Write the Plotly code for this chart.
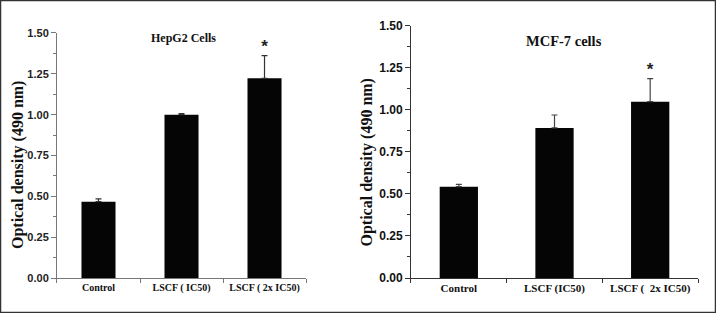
import plotly.graph_objects as go

categories_left = ["Control", "LSCF ( IC50)", "LSCF ( 2x IC50)"]
values_left = [0.467, 1.0, 1.223]
errors_left = [0.017, 0.006, 0.138]
title_left = "HepG2 Cells"

categories_right = ["Control", "LSCF (IC50)", "LSCF (  2x IC50)"]
values_right = [0.543, 0.892, 1.048]
errors_right = [0.014, 0.077, 0.137]
title_right = "MCF-7 cells"

star_left = 1.41
star_right = 1.23

y_title = "Optical density (490 nm)"
y_ticks = [0, 0.25, 0.5, 0.75, 1.0, 1.25, 1.5]

SERIF = "Liberation Serif, Times New Roman, serif"
SANS = "Liberation Sans, Arial, sans-serif"

W, H = 716, 313

fig = go.Figure()

fig.add_trace(go.Bar(
    x=categories_left, y=values_left, width=0.41,
    marker=dict(color="#050505", line=dict(width=0)),
    error_y=dict(type="data", array=errors_left, arrayminus=[0, 0, 0],
                 symmetric=False, color="#333333", thickness=1.2, width=3),
    xaxis="x", yaxis="y", showlegend=False,
))
fig.add_trace(go.Bar(
    x=categories_right, y=values_right, width=0.40,
    marker=dict(color="#050505", line=dict(width=0)),
    error_y=dict(type="data", array=errors_right, arrayminus=[0, 0, 0],
                 symmetric=False, color="#444444", thickness=1.2, width=3),
    xaxis="x2", yaxis="y2", showlegend=False,
))

# asterisks
fig.add_trace(go.Scatter(
    x=[categories_left[2]], y=[star_left], mode="text", text=["<b>*</b>"],
    textfont=dict(family=SANS, size=17, color="#222"),
    xaxis="x", yaxis="y", showlegend=False, hoverinfo="skip",
))
fig.add_trace(go.Scatter(
    x=[categories_right[2]], y=[star_right], mode="text", text=["<b>*</b>"],
    textfont=dict(family=SANS, size=17, color="#222"),
    xaxis="x2", yaxis="y2", showlegend=False, hoverinfo="skip",
))

xcommon = dict(
    type="category", range=[-0.5, 2.5], showline=True, linewidth=1,
    ticks="outside", ticklen=4, tickson="boundaries",
    tickangle=0, automargin=False,
    showgrid=False, zeroline=False,
)
ycommon = dict(
    range=[0, 1.5], tickvals=y_ticks, ticktext=[f"{v:.2f}" for v in y_ticks],
    showline=True, linewidth=1, ticks="outside", ticklen=5,
    minor=dict(ticks="outside", ticklen=3, dtick=0.125, tick0=0, showgrid=False),
    showgrid=False, zeroline=False, automargin=False,
)

fig.update_layout(
    width=W, height=H,
    margin=dict(l=0, r=0, t=0, b=0),
    paper_bgcolor="white", plot_bgcolor="white",
    xaxis=dict(**xcommon, domain=[0.0796, 0.4274], anchor="y", linecolor="#777",
               tickcolor="#777",
               tickfont=dict(family=SERIF, size=10, color="#111", weight="bold")),
    yaxis=dict(**ycommon, domain=[0.1118, 0.8946], anchor="x", linecolor="#777",
               tickcolor="#777",
               tickfont=dict(family=SANS, size=11, color="#222", weight="bold")),
    xaxis2=dict(**xcommon, domain=[0.574, 0.9749], anchor="y2", linecolor="#333",
                tickcolor="#333",
                tickfont=dict(family=SERIF, size=11, color="#111", weight="bold")),
    yaxis2=dict(**ycommon, domain=[0.1118, 0.918], anchor="x2", linecolor="#333",
                tickcolor="#333",
                tickfont=dict(family=SANS, size=12, color="#111", weight="bold")),
    annotations=[
        dict(text="<b>" + title_left + "</b>", x=183.5 / W, y=1 - 38 / H,
             xref="paper", yref="paper", showarrow=False,
             xanchor="center", yanchor="middle",
             font=dict(family=SERIF, size=12, color="#111")),
        dict(text="<b>" + title_right + "</b>", x=563.7 / W, y=1 - 41 / H,
             xref="paper", yref="paper", showarrow=False,
             xanchor="center", yanchor="middle",
             font=dict(family=SERIF, size=14.5, color="#111")),
        dict(text="<b>" + y_title + "</b>", x=18 / W, y=1 - 165 / H,
             xref="paper", yref="paper", showarrow=False, textangle=-90,
             xanchor="center", yanchor="middle",
             font=dict(family=SERIF, size=16, color="#111")),
        dict(text="<b>" + y_title + "</b>", x=366 / W, y=1 - 162.5 / H,
             xref="paper", yref="paper", showarrow=False, textangle=-90,
             xanchor="center", yanchor="middle",
             font=dict(family=SERIF, size=16, color="#111")),
    ],
    shapes=[
        dict(type="rect", xref="paper", yref="paper", x0=0, y0=0, x1=1, y1=1,
             line=dict(color="#333", width=2.5)),
    ],
)

fig.write_html(
    "out.html",
    config={"displayModeBar": False},
    post_script="document.body.style.margin='0';document.body.style.overflow='hidden';",
)
